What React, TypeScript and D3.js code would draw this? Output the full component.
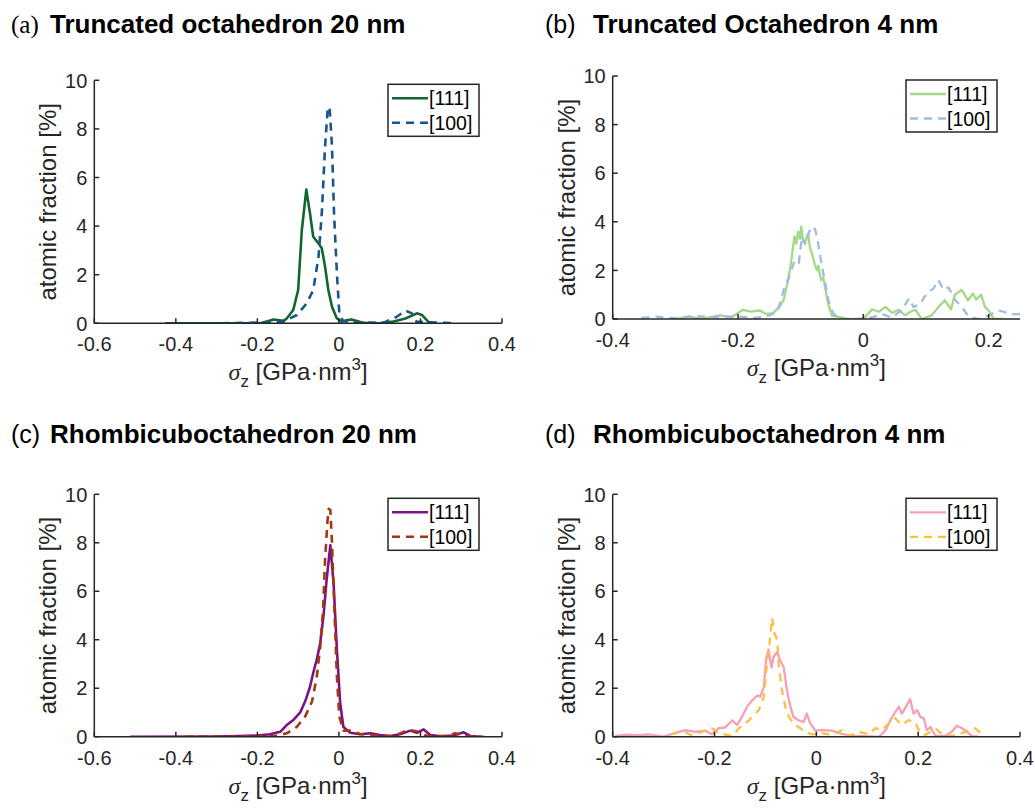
import React from 'react';
import * as d3 from 'd3';

// (a) truncated octahedron 20 nm
const aX111 = [-0.42, -0.3, -0.193, -0.175, -0.16, -0.145, -0.136, -0.128, -0.112, -0.1, -0.091, -0.08, -0.071, -0.063, -0.05, -0.042, -0.034, -0.026, -0.017, -0.005, 0.007, 0.018, 0.03, 0.042, 0.055, 0.07, 0.1, 0.134, 0.163, 0.18, 0.191, 0.204, 0.22, 0.232];
const aY111 = [0, 0, 0, 0.08, 0.16, 0.12, 0.1, 0.2, 0.55, 1.37, 3.84, 5.5, 4.53, 3.56, 3.29, 3.09, 2.33, 1.37, 0.68, 0.2, 0.07, 0.12, 0.16, 0.1, 0.04, 0, 0, 0.07, 0.2, 0.32, 0.41, 0.34, 0.05, 0];
const aX100 = [-0.427, -0.3, -0.19, -0.136, -0.103, -0.079, -0.063, -0.05, -0.042, -0.034, -0.028, -0.023, -0.017, -0.012, -0.005, 0.001, 0.01, 0.036, 0.11, 0.142, 0.163, 0.179, 0.19, 0.224, 0.285];
const aY100 = [0, 0, 0.03, 0.07, 0.34, 0.82, 1.37, 2.74, 4.53, 7.27, 8.71, 8.91, 7.27, 4.53, 2.06, 0.41, 0.1, 0.03, 0.03, 0.27, 0.52, 0.41, 0.07, 0.04, 0];

// (b) truncated octahedron 4 nm
const bX111 = [-0.31, -0.295, -0.28, -0.265, -0.25, -0.229, -0.21, -0.192, -0.18, -0.165, -0.155, -0.144, -0.134, -0.127, -0.12, -0.115, -0.11, -0.107, -0.104, -0.101, -0.099, -0.096, -0.093, -0.09, -0.088, -0.085, -0.082, -0.079, -0.077, -0.074, -0.072, -0.069, -0.067, -0.064, -0.061, -0.056, -0.05, -0.037, -0.026, 0.0, 0.007, 0.014, 0.025, 0.035, 0.046, 0.056, 0.067, 0.075, 0.083, 0.093, 0.109, 0.12, 0.13, 0.14, 0.146, 0.157, 0.167, 0.175, 0.18, 0.188, 0.194, 0.2, 0.208, 0.222];
const bY111 = [0.05, 0.02, 0.1, 0.04, 0.05, 0.15, 0.08, 0.38, 0.3, 0.35, 0.2, 0.25, 0.5, 0.8, 1.6, 2.4, 3.4, 3.1, 3.6, 3.3, 3.8, 3.2, 3.1, 3.4, 3.5, 2.9, 2.7, 2.4, 2.2, 2.0, 2.2, 1.8, 1.6, 1.7, 1.3, 0.6, 0.13, 0.08, 0, 0, 0.2, 0.4, 0.3, 0.5, 0.25, 0.38, 0.15, 0.3, 0.38, 0, 0.15, 0.5, 0.77, 0.4, 1.0, 1.2, 0.77, 1.05, 0.8, 1.0, 0.5, 0.35, 0, 0];
const bX100 = [-0.354, -0.33, -0.3, -0.27, -0.24, -0.2, -0.17, -0.15, -0.137, -0.127, -0.119, -0.11, -0.103, -0.098, -0.093, -0.088, -0.083, -0.077, -0.072, -0.067, -0.061, -0.056, -0.048, -0.037, -0.006, 0.015, 0.03, 0.046, 0.062, 0.073, 0.08, 0.09, 0.101, 0.112, 0.12, 0.128, 0.136, 0.146, 0.157, 0.168, 0.184, 0.2, 0.216, 0.237, 0.25];
const bY100 = [0.05, 0.1, 0.02, 0.12, 0.08, 0.1, 0.05, 0.15, 0.3, 1.2, 1.7, 2.4, 2.3, 3.4, 3.1, 3.5, 3.8, 3.7, 3.1, 2.3, 1.5, 0.78, 0.23, 0, 0, 0.08, 0.2, 0.05, 0.4, 0.85, 0.5, 0.6, 1.05, 1.26, 1.6, 1.2, 1.3, 0.8, 0.5, 0.1, 0, 0.15, 0.35, 0.2, 0.2];

// (c) rhombicuboctahedron 20 nm
const cX111 = [-0.512, -0.3, -0.2, -0.169, -0.144, -0.128, -0.111, -0.095, -0.083, -0.071, -0.062, -0.054, -0.046, -0.038, -0.03, -0.021, -0.013, -0.005, 0.003, 0.011, 0.028, 0.052, 0.077, 0.101, 0.126, 0.15, 0.175, 0.191, 0.208, 0.224, 0.249, 0.281, 0.306, 0.322, 0.347];
const cY111 = [0, 0.01, 0.05, 0.1, 0.2, 0.48, 0.7, 1.0, 1.45, 2.05, 2.7, 3.2, 3.85, 4.95, 6.5, 7.9, 6.3, 3.6, 1.4, 0.4, 0.16, 0.1, 0.14, 0.07, 0.03, 0.1, 0.25, 0.16, 0.3, 0.07, 0.02, 0.05, 0.18, 0.03, 0];
const cX100 = [-0.377, -0.25, -0.16, -0.128, -0.103, -0.083, -0.066, -0.054, -0.046, -0.039, -0.034, -0.028, -0.025, -0.021, -0.017, -0.011, -0.005, 0.001, 0.011, 0.028, 0.052, 0.101, 0.134, 0.159, 0.175, 0.195, 0.216, 0.265, 0.285, 0.314, 0.355];
const cY100 = [0, 0.01, 0.02, 0.14, 0.41, 0.83, 1.45, 2.5, 3.7, 5.2, 7.3, 8.9, 9.4, 9.35, 8.0, 5.2, 2.5, 0.83, 0.25, 0.25, 0.11, 0.03, 0.03, 0.2, 0.27, 0.2, 0.03, 0.03, 0.14, 0.02, 0];

// (d) rhombicuboctahedron 4 nm
const dX111 = [-0.395, -0.37, -0.35, -0.33, -0.3, -0.286, -0.258, -0.237, -0.218, -0.205, -0.192, -0.179, -0.165, -0.156, -0.146, -0.136, -0.126, -0.116, -0.11, -0.103, -0.099, -0.094, -0.088, -0.084, -0.077, -0.071, -0.064, -0.058, -0.051, -0.045, -0.035, -0.025, -0.019, -0.012, -0.002, 0.011, 0.031, 0.05, 0.07, 0.123, 0.136, 0.149, 0.162, 0.168, 0.175, 0.184, 0.191, 0.198, 0.204, 0.211, 0.217, 0.224, 0.234, 0.253, 0.266, 0.276, 0.286, 0.296, 0.306, 0.318];
const dY111 = [0.03, 0.08, 0.05, 0.1, 0, 0.1, 0.27, 0.2, 0.25, 0.1, 0.35, 0.38, 0.68, 0.48, 0.82, 1.24, 1.5, 1.7, 1.65, 2.06, 3.16, 3.6, 2.85, 3.3, 3.5, 3.15, 2.85, 1.95, 1.24, 0.82, 0.68, 0.6, 0.95, 0.55, 0.25, 0.27, 0.25, 0.12, 0.03, 0, 0.27, 0.82, 1.24, 0.95, 1.2, 1.55, 0.95, 1.1, 0.82, 0.76, 0.27, 0.4, 0.03, 0.03, 0.2, 0.45, 0.35, 0.2, 0.02, 0];
const dX100 = [-0.283, -0.264, -0.244, -0.205, -0.192, -0.165, -0.152, -0.139, -0.126, -0.113, -0.103, -0.097, -0.092, -0.087, -0.083, -0.077, -0.074, -0.068, -0.061, -0.054, -0.045, -0.035, -0.022, -0.009, 0.011, 0.031, 0.05, 0.064, 0.083, 0.103, 0.116, 0.129, 0.142, 0.155, 0.168, 0.181, 0.194, 0.204, 0.214, 0.234, 0.247, 0.266, 0.293, 0.312, 0.325];
const dY100 = [0.1, 0.25, 0.05, 0.35, 0.15, 0.03, 0.35, 0.55, 0.82, 1.1, 1.65, 3.0, 3.85, 4.9, 4.3, 4.0, 3.0, 1.95, 1.24, 0.82, 0.55, 0.4, 0.2, 0.1, 0.15, 0.07, 0.27, 0.03, 0.2, 0.1, 0.35, 0.27, 0.55, 0.76, 0.48, 0.68, 0.6, 0.13, 0.07, 0.35, 0.1, 0.03, 0.2, 0.35, 0.1];

const yTicks = [0, 2, 4, 6, 8, 10];
const legendLabels = ['[111]', '[100]'];

const panels = [
  { tag: '(a)', tagSerif: true, title: 'Truncated octahedron 20 nm', left: 94.3, right: 502, top: 80.3, bottom: 323.3,
    domain: [-0.6, 0.4], ticks: [-0.6, -0.4, -0.2, 0, 0.2, 0.4], tagX: 11, titleX: 50, titleY: 33,
    series: [{ x: aX111, y: aY111, color: '#11662f', dash: null, w: 2.6 }, { x: aX100, y: aY100, color: '#1b5688', dash: '8,6', w: 2.6 }] },
  { tag: '(b)', tagSerif: false, title: 'Truncated Octahedron 4 nm', left: 612.7, right: 1020, top: 76, bottom: 319,
    domain: [-0.4, 0.25], ticks: [-0.4, -0.2, 0, 0.2], tagX: 545, titleX: 593, titleY: 33,
    series: [{ x: bX111, y: bY111, color: '#a5d98a', dash: null, w: 2.3 }, { x: bX100, y: bY100, color: '#a2bbe2', dash: '8,6', w: 2.3 }] },
  { tag: '(c)', tagSerif: false, title: 'Rhombicuboctahedron 20 nm', left: 94.3, right: 502, top: 494.3, bottom: 736.7,
    domain: [-0.6, 0.4], ticks: [-0.6, -0.4, -0.2, 0, 0.2, 0.4], tagX: 11, titleX: 50, titleY: 443,
    series: [{ x: cX111, y: cY111, color: '#7c1288', dash: null, w: 2.6 }, { x: cX100, y: cY100, color: '#a2380f', dash: '8,6', w: 2.6 }] },
  { tag: '(d)', tagSerif: false, title: 'Rhombicuboctahedron 4 nm', left: 612.7, right: 1020, top: 494.3, bottom: 736.7,
    domain: [-0.4, 0.4], ticks: [-0.4, -0.2, 0, 0.2, 0.4], tagX: 545, titleX: 593, titleY: 443,
    series: [{ x: dX111, y: dY111, color: '#f5a0b5', dash: null, w: 2.3 }, { x: dX100, y: dY100, color: '#fcc048', dash: '8,6', w: 2.3 }] },
];

const axisColor = '#262626';
const sans = '"Liberation Sans", Arial, sans-serif';

const Panel = ({ p, idx }) => {
  const x = d3.scaleLinear().domain(p.domain).range([p.left, p.right]);
  const y = d3.scaleLinear().domain([0, 10]).range([p.bottom, p.top]);
  const line = d3.line().x((d) => x(d[0])).y((d) => y(d[1]));
  const clipId = `clip-${idx}`;
  const midX = (p.left + p.right) / 2;
  const midY = (p.top + p.bottom) / 2;
  const lx = p.right - 114;
  const ly = p.top + 4;

  return (
    <g>
      <text x={p.tagX} y={p.titleY} fontSize={25}
        fontFamily={p.tagSerif ? '"Liberation Serif", serif' : sans} fill="#000">{p.tag}</text>
      <text x={p.titleX} y={p.titleY} fontSize={26} fontWeight="bold" fontFamily={sans} fill="#000">{p.title}</text>

      <clipPath id={clipId}>
        <rect x={p.left} y={p.top - 5} width={p.right - p.left} height={p.bottom - p.top + 5} />
      </clipPath>
      <g clipPath={`url(#${clipId})`}>
        {p.series.map((s, i) => (
          <path key={i} d={line(s.x.map((v, j) => [v, s.y[j]]))} fill="none" stroke={s.color}
            strokeWidth={s.w} strokeDasharray={s.dash || undefined} strokeLinejoin="round" />
        ))}
      </g>

      {/* axes */}
      <line x1={p.left} x2={p.right} y1={p.bottom} y2={p.bottom} stroke={axisColor} strokeWidth={1.5} />
      <line x1={p.left} x2={p.left} y1={p.top} y2={p.bottom} stroke={axisColor} strokeWidth={1.5} />
      {p.ticks.map((t) => (
        <g key={t}>
          <line x1={x(t)} x2={x(t)} y1={p.bottom} y2={p.bottom - 5} stroke={axisColor} strokeWidth={1.5} />
          <text x={x(t)} y={p.bottom + 28} textAnchor="middle" fontSize={20} fontFamily={sans} fill={axisColor}>{t}</text>
        </g>
      ))}
      {yTicks.map((t) => (
        <g key={t}>
          <line x1={p.left} x2={p.left + 5} y1={y(t)} y2={y(t)} stroke={axisColor} strokeWidth={1.5} />
          <text x={p.left - 7} y={y(t)} dy="0.36em" textAnchor="end" fontSize={20} fontFamily={sans} fill={axisColor}>{t}</text>
        </g>
      ))}

      <text transform={`translate(${p.left - 38},${midY}) rotate(-90)`} textAnchor="middle" fontSize={24}
        fontFamily={sans} fill={axisColor}>atomic fraction [%]</text>

      <text x={midX} y={p.bottom + 57} textAnchor="middle" fontSize={24} fontFamily={sans} fill={axisColor}>
        <tspan fontStyle="italic" fontFamily='"Liberation Serif", serif'>σ</tspan>
        <tspan fontSize={17} dy={7}>z</tspan>
        <tspan dy={-7}> [GPa·nm</tspan>
        <tspan fontSize={17} dy={-10}>3</tspan>
        <tspan dy={10}>]</tspan>
      </text>

      {/* legend */}
      <rect x={lx} y={ly} width={91} height={52} fill="#fff" stroke={axisColor} strokeWidth={1.5} />
      {p.series.map((s, i) => (
        <g key={i}>
          <line x1={lx + 4} x2={lx + 40} y1={ly + 14 + i * 24.5} y2={ly + 14 + i * 24.5} stroke={s.color}
            strokeWidth={s.w} strokeDasharray={s.dash || undefined} />
          <text x={lx + 41} y={ly + 14 + i * 24.5} dy="0.36em" fontSize={19.5} fontFamily={sans} fill="#000">{legendLabels[i]}</text>
        </g>
      ))}
    </g>
  );
};

export default function App() {
  return (
    <svg width={1035} height={810} style={{ position: 'absolute', left: 0, top: 0, background: '#fff' }}>
      <rect width={1035} height={810} fill="#fff" />
      {panels.map((p, i) => <Panel key={i} p={p} idx={i} />)}
    </svg>
  );
}
